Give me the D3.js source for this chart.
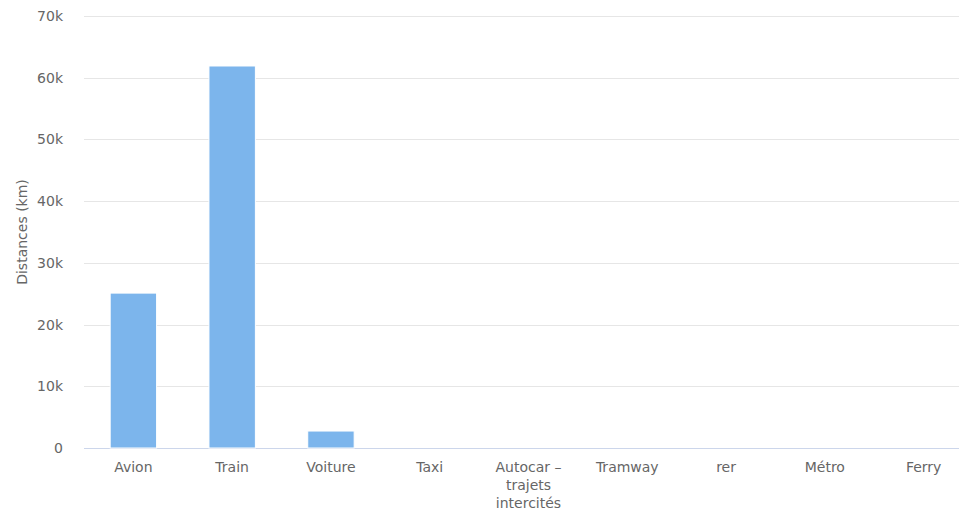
<!DOCTYPE html>
<html>
<head>
<meta charset="utf-8">
<script src="https://cdn.jsdelivr.net/npm/d3@7"></script>
<style>
  body { margin: 0; background: #fff; overflow: hidden; }
  text { font-family: "DejaVu Sans", sans-serif; }
</style>
</head>
<body>
<div id="chart"></div>
<script>
const categories = ["Avion", "Train", "Voiture", "Taxi", "Autocar – trajets intercités", "Tramway", "rer", "Métro", "Ferry"]
const distances = [25100, 61900, 2750, 0, 0, 0, 0, 0, 0]
const yTicks = [0, 10000, 20000, 30000, 40000, 50000, 60000, 70000]
const yTitle = "Distances (km)"

const width = 959
const height = 511
// plot area runs a bit past the right edge, like the reference
const margin = {top: 16, bottom: 63, left: 84}
const plotRight = 973

const svg = d3.select("#chart").append("svg")
    .attr("width", width)
    .attr("height", height)

const x = d3.scaleBand()
    .domain(categories)
    .range([margin.left, plotRight])
    .padding(0)

const barW = x.bandwidth() * 0.47

const y = d3.scaleLinear()
    .domain([0, 70000])
    .range([height - margin.bottom, margin.top])

// grid
svg.append("g")
    .selectAll("line")
    .data(yTicks)
    .enter()
    .append("line")
    .attr("x1", margin.left)
    .attr("x2", plotRight)
    .attr("y1", d => Math.round(y(d)) + 0.5)
    .attr("y2", d => Math.round(y(d)) + 0.5)
    .attr("stroke", d => d == 0 ? "#ccd6eb" : "#e6e6e6")
    .attr("stroke-width", 1)

// y labels
svg.append("g")
    .selectAll("text")
    .data(yTicks)
    .enter()
    .append("text")
    .attr("x", margin.left - 21)
    .attr("y", d => y(d) + 5)
    .attr("text-anchor", "end")
    .attr("fill", "#666666")
    .style("font-size", "14px")
    .text(d => d == 0 ? "0" : (d / 1000) + "k")

svg.append("text")
    .attr("transform", "translate(27," + y(35000) + ") rotate(-90)")
    .attr("text-anchor", "middle")
    .attr("fill", "#666666")
    .style("font-size", "14px")
    .text(yTitle)

// bars
svg.append("g")
    .selectAll("rect")
    .data(categories)
    .enter()
    .append("rect")
    .attr("x", d => x(d) + (x.bandwidth() - barW) / 2)
    .attr("width", barW)
    .attr("y", (d, i) => y(distances[i]))
    .attr("height", (d, i) => y(0) - y(distances[i]))
    .attr("fill", "#7cb5ec")
    .attr("stroke", "#ffffff")
    .attr("stroke-width", 1)

// x labels, wrap long ones
const xLab = svg.append("g")
    .selectAll("text")
    .data(categories)
    .enter()
    .append("text")
    .attr("x", d => x(d) + x.bandwidth() / 2)
    .attr("y", y(0) + 24)
    .attr("text-anchor", "middle")
    .attr("fill", "#666666")
    .style("font-size", "14px")

xLab.each(function(d){
    var lines = d == "Autocar – trajets intercités" ? ["Autocar –", "trajets", "intercités"] : [d]
    var t = d3.select(this)
    lines.forEach(function(l, i){
        t.append("tspan")
            .attr("x", x(d) + x.bandwidth() / 2)
            .attr("dy", i == 0 ? 0 : 18)
            .text(l)
    })
})
</script>
</body>
</html>
